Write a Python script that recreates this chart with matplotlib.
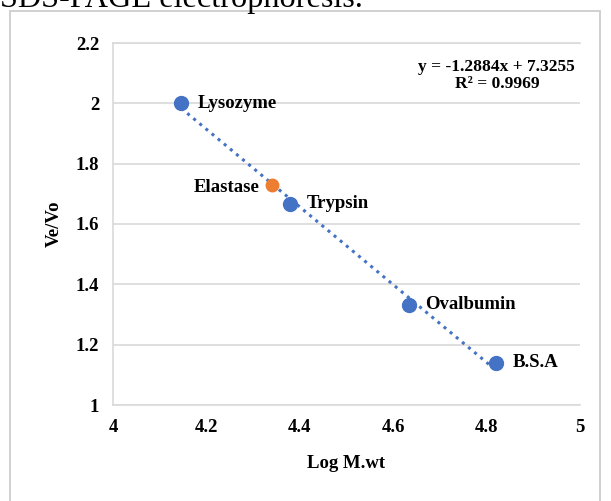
import numpy as np
import matplotlib.pyplot as plt
from matplotlib.patches import Rectangle

plt.rcParams['font.family'] = ['Liberation Serif', 'DejaVu Serif']

# standard proteins
proteins = ['Lysozyme', 'Trypsin', 'Ovalbumin', 'B.S.A']
log_mw = [4.146, 4.38, 4.633, 4.82]
ve_vo = [2.0, 1.667, 1.333, 1.14]

# unknown enzyme
enzyme = 'Elastase'
enzyme_log_mw = 4.34
enzyme_ve_vo = 1.73

slope, intercept, r2 = -1.2884, 7.3255, 0.9969

x_ticks = [4, 4.2, 4.4, 4.6, 4.8, 5]
y_ticks = [1, 1.2, 1.4, 1.6, 1.8, 2, 2.2]

blue = '#4472C4'
orange = '#ED7D31'
grid_col = '#D9D9D9'

fig = plt.figure(figsize=(6.11, 5.01), dpi=100)

# caption from the surrounding document, cut by the top edge
fig.text(0.0, 1 - 7 / 501, 'SDS-PAGE electrophoresis.', fontsize=23.2,
         va='baseline', ha='left', color='black')

# chart frame
fig.patches.append(Rectangle((10 / 611, -0.1), (600 - 10) / 611, 1 - 11 / 501 + 0.1,
                             transform=fig.transFigure, fill=False,
                             edgecolor='#D0D0D0', linewidth=1.4))

ax = fig.add_axes([113 / 611, 1 - 405 / 501, (580 - 113) / 611, (405 - 43) / 501])

xs = np.array([min(log_mw), max(log_mw)])
ax.plot(xs, slope * xs + intercept, linestyle=(0, (1, 1.6)), color=blue,
        linewidth=2.2, zorder=2)
ax.plot(log_mw, ve_vo, 'o', color=blue, markersize=10, zorder=3)
ax.plot([enzyme_log_mw], [enzyme_ve_vo], 'o', color=orange, markersize=9, zorder=3)

for name, x, y in zip(proteins, log_mw, ve_vo):
    ax.annotate(name, (x, y), xytext=(12, 0), textcoords='offset points',
                ha='left', va='center', fontsize=13.5, fontweight='bold')
ax.annotate(enzyme, (enzyme_log_mw, enzyme_ve_vo), xytext=(-9, -2),
            textcoords='offset points', ha='right', va='center',
            fontsize=13.5, fontweight='bold')

ax.text(0.822, 0.955, f'y = {slope}x + {intercept}\nR² = {r2}',
        transform=ax.transAxes, ha='center', va='top', fontsize=12.5,
        fontweight='bold', linespacing=1.05)

ax.set_xlim(4, 5)
ax.set_ylim(1, 2.2)
ax.set_xticks(x_ticks)
ax.set_yticks(y_ticks)
ax.set_xticklabels([f'{t:g}' for t in x_ticks], fontsize=13.5, fontweight='bold')
ax.set_yticklabels([f'{t:g}' for t in y_ticks], fontsize=13.5, fontweight='bold')
ax.tick_params(length=0, pad=10)
ax.yaxis.grid(True, color=grid_col, linewidth=1.2)
ax.set_axisbelow(True)
for side in ['left', 'top', 'bottom']:
    ax.spines[side].set_color(grid_col)
    ax.spines[side].set_linewidth(1.2)
ax.spines['right'].set_visible(False)

ax.set_xlabel('Log M.wt', fontsize=13.5, fontweight='bold', labelpad=14)
ax.set_ylabel('Ve/Vo', fontsize=13.5, fontweight='bold', labelpad=9)

fig.savefig('out.png', dpi=100)
